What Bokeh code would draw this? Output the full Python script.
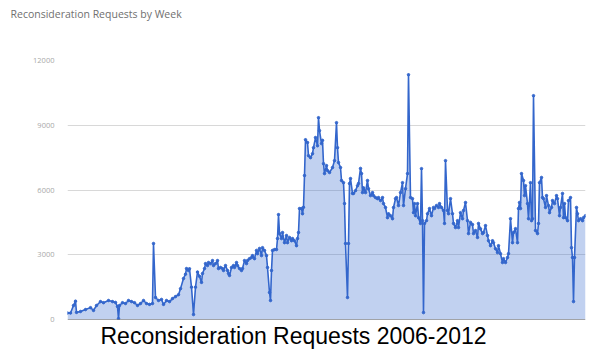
from bokeh.plotting import figure
from bokeh.models import Range1d, Span, FixedTicker, ColumnDataSource, Title
from bokeh.embed import file_html
from bokeh.resources import INLINE

weeks = [0,3,6,8,9,13,18,23,26,29,33,36,41,45,48,50,51,52,55,58,61,64,67,70,73,76,79,82,85,86,
         88,91,94,96,99,102,105,108,111,113,116,118,119,121,122,124,126,128,130,132,134,135,137,138,
         140,141,143,145,146,148,150,151,153,155,156,158,160,161,162,164,166,167,169,170,172,174,175,
         177,179,180,182,184,185,187,189,190,192,194,195,197,199,200,202,203,204,205,207,209,210,211,
         212,214,215,217,219,220,222,224,225,227,229,230,231,232,234,235,236,237,238,240,241,243,245,
         246,248,250,251,252,254,255,256,257,259,260,262,265,267,269,270,271,273,274,276,277,278,280,
         281,282,283,285,286,288,290,291,293,294,295,296,298,300,301,303,305,306,308,310,311,313,315,
         316,318,320,321,323,325,326,328,329,331,333,335,336,338,340,341,343,345,346,347,348,350,351,
         353,354,355,356,357,359,360,362,364,366,367,369,371,372,374,376,377,378,380,381,383,385,386,
         388,390,391,393,395,396,398,400,401,403,405,406,408,410,411,413,415,416,418,420,421,423,425,
         426,428,430,431,433,435,436,438,440,441,443,445,446,448,450,451,452,453,454,456,457,458,460,
         461,463,464,465,466,468,470,471,472,474,475,476,478,479,481,482,484,485,487,489,490,492,493,
         495,496,497,498,500,501,503,504,505,506,507,509,510,511,513,515,516,518]

requests = [300,300,650,850,330,370,460,550,420,650,830,780,880,830,790,600,40,650,780,740,880,830,780,650,740,880,740,700,740,3520,
            1020,880,930,700,880,830,970,1060,1150,1430,1900,2100,2360,2270,2350,1500,230,1500,2200,2000,1720,2130,2360,2590,
            2500,2640,2590,2730,2500,2590,2730,2360,2410,2360,2270,2500,2270,2130,2040,2410,2500,2410,2640,2500,2360,2270,2360,
            2730,2590,2730,2820,2870,2960,2820,3200,3050,3290,2960,3330,3200,2960,2410,1250,880,2270,3200,3240,3240,3750,4860,
            3980,3750,4030,3560,3890,3560,3800,3650,3750,3650,3420,3750,4030,5140,5140,4900,5200,6670,8330,8200,7590,7500,7680,
            7960,8430,8050,9350,8750,8150,8300,7220,6760,7130,6900,6810,7040,7360,9120,7960,7270,7040,6440,6340,5370,3520,1020,
            3520,6300,6530,5840,5840,5970,6200,6300,7000,6760,5880,6100,5880,6440,6060,5740,5880,5740,5650,5600,5650,5510,5650,
            5370,5190,4720,4900,4810,4670,5190,5600,5650,5280,5880,6340,5280,6060,6760,11340,5650,5600,4950,5370,4810,5370,4720,
            4450,6990,4580,320,4450,4580,4900,5140,4810,5190,5140,5280,5190,5370,5190,5050,4450,7360,5050,4900,5600,4900,4450,
            4260,4580,4260,4950,4670,5050,5420,4580,3980,4500,4400,3980,4120,3800,4450,4200,3980,4030,4350,3890,3650,3420,3650,
            3560,3280,3100,3420,3050,2640,2820,2640,2870,3050,4670,3560,4030,4210,3560,5140,5420,5140,6760,6440,5740,6200,5370,
            4670,6340,4580,4670,10370,4120,3980,4450,6340,6580,5650,5600,5190,5740,5280,4950,5190,5510,5370,5740,5600,4810,5190,
            5840,4720,5370,4720,4580,5510,5650,3330,2870,830,2870,5190,4900,4580,4670,4580,4720,4810]

y_ticks = [0, 3000, 6000, 9000, 12000]
chart_title = "Reconsideration Requests by Week"
caption = "Reconsideration Requests 2006-2012"

src = ColumnDataSource(data=dict(week=weeks, req=requests, base=[0] * len(weeks)))

p = figure(width=596, height=353, output_backend="svg", toolbar_location=None,
           x_range=Range1d(0, 518), y_range=Range1d(0, 12000),
           min_border_left=67, min_border_right=11, min_border_top=0, min_border_bottom=34)
p.outline_line_color = None
p.background_fill_color = "white"
p.border_fill_color = "white"

p.title.text = chart_title
p.title.align = "left"
p.title.vertical_align = "bottom"
p.title.offset = -57
p.title.standoff = 8
p.title.text_font = "Open Sans"
p.title.text_font_size = "10.5px"
p.title.text_font_style = "normal"
p.title.text_color = "#707070"

# empty spacer between the title and the plot area
p.add_layout(Title(text=" ", text_font_size="10.5px", standoff=22), "above")

p.add_layout(Title(text=caption, align="left", offset=33, standoff=2,
                   text_font="Liberation Sans", text_font_size="23px",
                   text_font_style="normal", text_color="#000000"), "below")

p.xaxis.visible = False
p.xgrid.visible = False
p.yaxis.ticker = FixedTicker(ticks=y_ticks)
p.yaxis.axis_line_color = None
p.yaxis.major_tick_line_color = None
p.yaxis.minor_tick_line_color = None
p.yaxis.major_label_text_font = "Open Sans"
p.yaxis.major_label_text_font_size = "7.5px"
p.yaxis.major_label_text_color = "#a8a8a8"
p.yaxis.major_label_standoff = 7
p.ygrid.ticker = FixedTicker(ticks=y_ticks)
p.ygrid.grid_line_color = "#d8d8d8"
p.ygrid.grid_line_width = 1

p.varea(x="week", y1="base", y2="req", source=src, fill_color="#3366cc", fill_alpha=0.3)
p.line(x="week", y="req", source=src, line_color="#3366cc", line_width=1.6)
p.scatter(x="week", y="req", source=src, size=2.5, color="#3366cc")

p.add_layout(Span(location=0, dimension="width", line_color="#555555", line_width=1))

open("out.html", "w").write(file_html(p, INLINE))
